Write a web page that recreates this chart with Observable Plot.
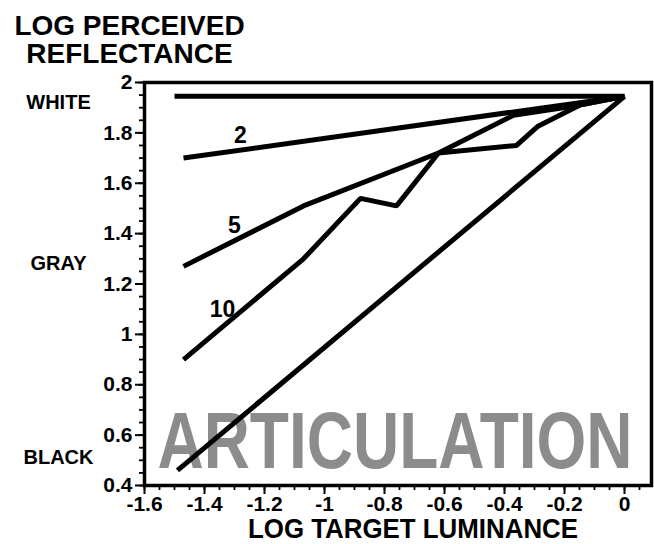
<!DOCTYPE html>
<html><head><meta charset="utf-8">
<script src="https://cdn.jsdelivr.net/npm/d3@7"></script>
<script src="https://cdn.jsdelivr.net/npm/@observablehq/plot@0.6"></script>
<style>body{margin:0;background:#fff}svg{display:block}</style>
</head><body><div id="chart"></div>
<script>
// Tick values
const xTicks = [-1.6, -1.4, -1.2, -1, -0.8, -0.6, -0.4, -0.2, 0];
const yTicks = [0.4, 0.6, 0.8, 1, 1.2, 1.4, 1.6, 1.8, 2];
const xMinor = d3.range(0, 34).map(i => +(-1.6 + i * 0.05).toFixed(2));
const yMinor = d3.range(0, 33).map(i => +(0.4 + i * 0.05).toFixed(2));

// Series (log target luminance -> log perceived reflectance)
const whiteX = [-1.5, 0];
const whiteY = [1.945, 1.945];
const ratio2X = [-1.47, 0];
const ratio2Y = [1.70, 1.945];
const ratio5X = [-1.47, -1.07, -0.62, -0.37, -0.15, 0];
const ratio5Y = [1.27, 1.51, 1.72, 1.87, 1.91, 1.945];
const ratio10X = [-1.47, -1.07, -0.88, -0.76, -0.62, -0.36, -0.29, -0.15, 0];
const ratio10Y = [0.90, 1.30, 1.54, 1.51, 1.72, 1.75, 1.825, 1.91, 1.945];
const blackX = [-1.49, 0];
const blackY = [0.46, 1.945];

// Curve labels
const curveLabels = ["2", "5", "10"];
const curveLabelX = [-1.28, -1.30, -1.34];
const curveLabelY = [1.79, 1.43, 1.10];

// Side labels
const sideLabels = ["WHITE", "GRAY", "BLACK"];
const sideLabelY = [1.92, 1.28, 0.51];

const series = [
  [whiteX, whiteY], [ratio2X, ratio2Y], [ratio5X, ratio5Y], [ratio10X, ratio10Y], [blackX, blackY]
].flatMap(([xs, ys], k) => xs.map((x, i) => ({k, x, y: ys[i]})));

const cl = curveLabels.map((t, i) => ({t, x: curveLabelX[i], y: curveLabelY[i]}));
const sl = sideLabels.map((t, i) => ({t, y: sideLabelY[i]}));

const font = "'Liberation Sans', Arial, Helvetica, sans-serif";

const chart = Plot.plot({
  width: 654, height: 544,
  marginLeft: 144, marginRight: 3, marginTop: 82, marginBottom: 59,
  x: {domain: [-1.6, 0.09]},
  y: {domain: [0.4, 2]},
  style: {fontFamily: font, fontWeight: "bold", color: "black", background: "white", overflow: "visible"},
  marks: [
    Plot.text(["ARTICULATION"], {x: -0.765, y: 0.47, text: d => d, fontSize: 64, fontWeight: "bold",
      fill: "#8c8c8c", textAnchor: "middle", lineAnchor: "bottom", className: "artic"}),
    Plot.line(series, {x: "x", y: "y", z: "k", stroke: "black", strokeWidth: 5, strokeLinejoin: "miter", strokeLinecap: "butt"}),
    Plot.text(cl, {x: "x", y: "y", text: "t", fontSize: 23, fontWeight: "bold"}),
    Plot.frame({stroke: "black", strokeWidth: 3.5}),
    Plot.axisX(xMinor, {tickSize: 5, tickFormat: () => "", strokeWidth: 1.8, label: null}),
    Plot.axisX(xTicks, {tickSize: 9, tickPadding: 2, tickFormat: d => String(d), fontSize: 21, fontWeight: "bold", strokeWidth: 2, label: null}),
    Plot.axisY(yMinor, {tickSize: 5, tickFormat: () => "", strokeWidth: 1.8, label: null}),
    Plot.axisY(yTicks, {tickSize: 9, tickPadding: 3, tickFormat: d => String(d), fontSize: 21, fontWeight: "bold", strokeWidth: 2, label: null}),
    Plot.text(sl, {y: "y", text: "t", frameAnchor: "left", dx: -86, textAnchor: "middle", fontSize: 20, fontWeight: "bold"}),
    Plot.text(["LOG PERCEIVED\nREFLECTANCE"], {text: d => d, frameAnchor: "top-left", dx: -15, dy: -67,
      textAnchor: "middle", lineAnchor: "top", fontSize: 28, lineHeight: 1, fontWeight: "bold"}),
    Plot.text(["LOG TARGET LUMINANCE"], {text: d => d, frameAnchor: "bottom", dx: 15, dy: 44,
      lineAnchor: "middle", fontSize: 28, fontWeight: "bold", className: "xtitle"})
  ]
});
document.getElementById("chart").appendChild(chart);
d3.select(chart).selectAll(".artic text").each(function() {
  const t = this.getAttribute("transform");
  if (t) {
    this.setAttribute("transform", t + " scale(1,1.24)");
  } else {
    const x = +this.getAttribute("x") || 0, y = +this.getAttribute("y") || 0;
    this.setAttribute("transform", `translate(${x},${y}) scale(1,1.24) translate(${-x},${-y})`);
  }
});
d3.select(chart).selectAll(".xtitle text").attr("textLength", 330).attr("lengthAdjust", "spacingAndGlyphs");
</script>
</body></html>
